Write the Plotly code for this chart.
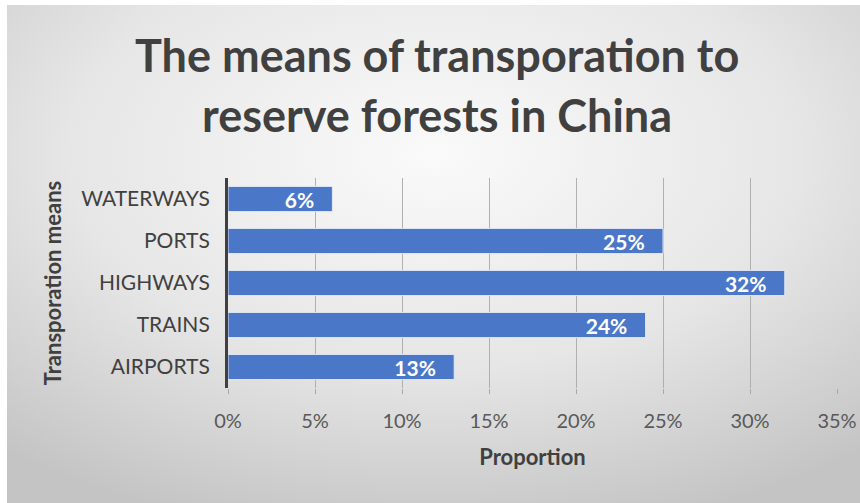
import base64
import plotly.graph_objects as go

categories = ["AIRPORTS", "TRAINS", "HIGHWAYS", "PORTS", "WATERWAYS"]
values = [0.13, 0.24, 0.32, 0.25, 0.06]
tick_vals = [0, 0.05, 0.10, 0.15, 0.20, 0.25, 0.30, 0.35]
tick_text = ["0%", "5%", "10%", "15%", "20%", "25%", "30%", "35%"]
title_lines = ["The means of transporation to", "reserve forests in China"]

FONT = "Lato"
W, H = 860, 503
ML, MR, MT, MB = 228, 23, 178, 115
PW, PH = W - ML - MR, H - MT - MB

# radial gradient background as SVG image
svg = (
    "<svg xmlns='http://www.w3.org/2000/svg' width='853' height='498' "
    "viewBox='0 0 853 498' preserveAspectRatio='none'>"
    "<defs><radialGradient id='g' cx='0.5' cy='0.3' r='0.78'>"
    "<stop offset='0' stop-color='#fafafa'/>"
    "<stop offset='0.55' stop-color='#e6e6e6'/>"
    "<stop offset='1' stop-color='#c4c4c4'/>"
    "</radialGradient></defs>"
    "<rect width='853' height='498' fill='url(#g)'/></svg>"
)
bg_uri = "data:image/svg+xml;base64," + base64.b64encode(svg.encode()).decode()


def px_x(p):
    return (p - ML) / PW


def px_y(q):
    return (H - MB - q) / PH


fig = go.Figure(
    go.Bar(
        x=values,
        y=categories,
        orientation="h",
        marker=dict(color="#4a77c8", line=dict(color="#e3e9f4", width=1)),
        texttemplate="%{x:.0%}\u00a0\u00a0\u00a0",
        textposition="inside",
        insidetextanchor="end",
        constraintext="none",
        textangle=0,
        textfont=dict(family=FONT, size=21, color="white", weight="bold"),
        hoverinfo="skip",
    )
)

fig.add_layout_image(
    source=bg_uri,
    xref="paper", yref="paper",
    x=px_x(7), y=px_y(5),
    sizex=853 / PW, sizey=498 / PH,
    xanchor="left", yanchor="top",
    sizing="stretch", layer="below",
)

for line, ypx in zip(title_lines, [55, 115]):
    fig.add_annotation(
        text=line, xref="paper", yref="paper",
        x=px_x(437), y=px_y(ypx), xanchor="center", yanchor="middle",
        showarrow=False,
        font=dict(family=FONT, size=45, color="#404040", weight="bold"),
    )

fig.update_layout(
    width=W,
    height=H,
    margin=dict(l=ML, r=MR, t=MT, b=MB),
    paper_bgcolor="white",
    plot_bgcolor="rgba(0,0,0,0)",
    bargap=0.4,
    uniformtext=dict(mode=False),
    showlegend=False,
    xaxis=dict(
        range=[0, 0.35],
        automargin=False,
        tickvals=tick_vals,
        ticktext=tick_text,
        showgrid=True,
        gridcolor="#b0b0b0",
        gridwidth=1,
        zeroline=False,
        showline=False,
        ticks="outside",
        ticklen=5,
        tickcolor="#a8a8a8",
        ticklabelstandoff=10,
        tickfont=dict(family=FONT, size=20, color="#595959"),
        title=dict(text="Proportion", standoff=18,
                   font=dict(family=FONT, size=22, color="#404040", weight="bold")),
    ),
    yaxis=dict(
        automargin=False,
        showline=True,
        linecolor="#404040",
        linewidth=3,
        showgrid=False,
        ticks="",
        ticklabelstandoff=11,
        tickfont=dict(family=FONT, size=21, color="#404040"),
        title=dict(text="Transporation means", standoff=14,
                   font=dict(family=FONT, size=22, color="#404040", weight="bold")),
    ),
)

fig.write_html("out.html")
